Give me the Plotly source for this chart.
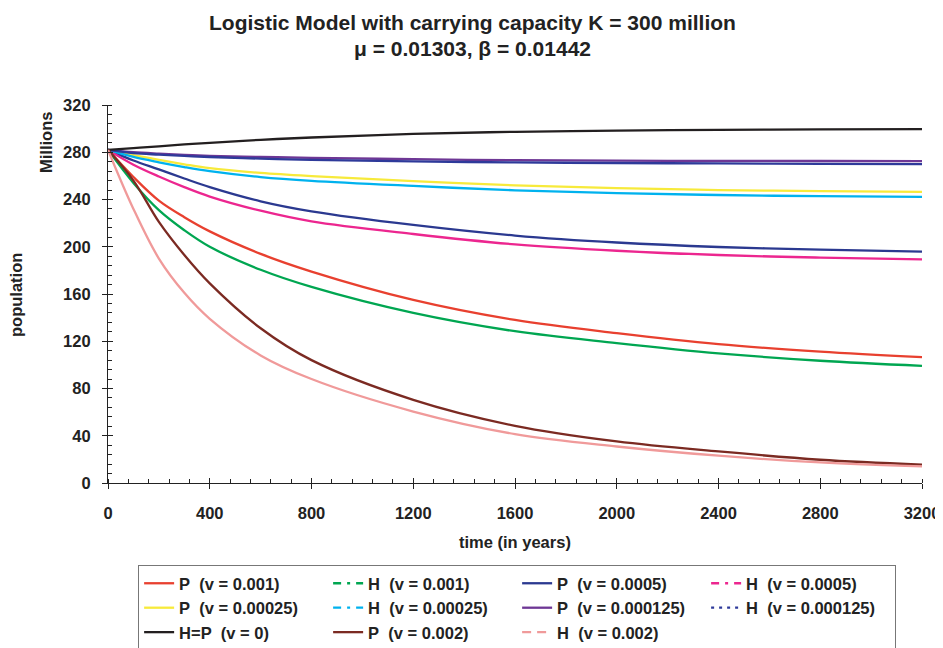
import plotly.graph_objects as go

years = [0, 100, 200, 300, 400, 600, 800, 1200, 1600, 2000, 2400, 2800, 3200]

p_0001 = [282, 259, 239, 225, 213, 194, 179, 155, 138, 126.8, 117.5, 111.2, 106.5]
h_0001 = [282, 254, 231, 214, 200, 180.5, 166, 144, 128.5, 118.5, 109.8, 103.5, 99.2]
p_00005 = [282, 273, 265.5, 257.8, 250.5, 238.5, 230, 218.5, 209.5, 203.6, 199.8, 197.6, 195.8]
h_00005 = [282, 269.5, 259.5, 250.5, 242.5, 230.5, 221.5, 210.8, 202, 196.6, 193, 190.8, 189.3]
p_000025 = [282, 277.5, 273.5, 269.8, 266.5, 262.5, 259.8, 255.6, 252, 249.6, 248, 247.1, 246.5]
h_000025 = [282, 276, 271.5, 267.5, 264, 259, 255.8, 251.5, 247.8, 245.4, 243.8, 242.8, 242.2]
p_0000125 = [282, 280, 278.8, 277.8, 277, 276, 275.3, 274.1, 273.3, 272.9, 272.7, 272.6, 272.5]
h_0000125 = [282, 279.3, 278, 276.9, 276, 274.6, 273.6, 272.3, 271.4, 270.9, 270.5, 270.1, 269.9]
hp_0 = [282, 283.5, 285, 286.6, 288, 290.5, 292.5, 295.5, 297.3, 298.3, 298.9, 299.3, 299.6]
p_0002 = [282, 256, 221, 193, 169, 131, 104, 70.4, 48.4, 35.2, 26.7, 19.7, 15.5]
h_0002 = [282, 232, 190, 161, 139, 108, 88, 60.5, 41.4, 30.9, 23.1, 17.4, 14]

NB = "\u00a0"
series = [
    ("P" + NB * 2 + "(v = 0.001)", p_0001, "#E8402F", "solid"),
    ("H" + NB * 2 + "(v = 0.001)", h_0001, "#00A651", "8px,6px,3px,6px"),
    ("P" + NB * 2 + "(v = 0.0005)", p_00005, "#2B3990", "solid"),
    ("H" + NB * 2 + "(v = 0.0005)", h_00005, "#EC268F", "8px,6px,3px,6px"),
    ("P" + NB * 2 + "(v = 0.00025)", p_000025, "#F7EA3B", "solid"),
    ("H" + NB * 2 + "(v = 0.00025)", h_000025, "#00B2EE", "8px,6px,3px,6px"),
    ("P" + NB * 2 + "(v = 0.000125)", p_0000125, "#6E3795", "solid"),
    ("H" + NB * 2 + "(v = 0.000125)", h_0000125, "#2E3A9A", "3px,5px"),
    ("H=P" + NB * 2 + "(v = 0)", hp_0, "#231F20", "solid"),
    ("P" + NB * 2 + "(v = 0.002)", p_0002, "#7B2A22", "solid"),
    ("H" + NB * 2 + "(v = 0.002)", h_0002, "#F09A9A", "9px,6px"),
]

FONT = "Liberation Sans, Arial, sans-serif"
FS = 16.5

# The page body has an 8px margin, so the figure is 8px smaller and every
# position below is given in figure pixels relative to the plot area.
L, T, R, B = 100, 97, 914, 475   # plot area edges in figure pixels
W, H = 935, 640

fig = go.Figure()
# drawn curves (solid in the plot area)
for name, vals, color, dash in series:
    fig.add_trace(go.Scatter(x=years, y=vals, mode="lines", name=name,
                             line=dict(color=color, width=2.3, shape="spline"),
                             showlegend=False, hoverinfo="skip"))
# legend entries (with the legend's line styles); placed on the overlay axes
for name, vals, color, dash in series:
    fig.add_trace(go.Scatter(x=[None], y=[None], mode="lines", name=name,
                             xaxis="x2", yaxis="y2",
                             line=dict(color=color, width=2.3, dash=dash),
                             showlegend=True))

fig.update_layout(
    width=W, height=H,
    margin=dict(l=L, r=W - R, t=T, b=H - B, autoexpand=False),
    paper_bgcolor="white", plot_bgcolor="white",
    font=dict(family=FONT, color="#222", size=FS),
    showlegend=True,
    legend=dict(orientation="h", x=0.037, xanchor="left", y=-0.217, yanchor="top",
                entrywidth=144, entrywidthmode="pixels",
                bordercolor="#777", borderwidth=1, bgcolor="white",
                font=dict(family=FONT, size=FS, color="#222", weight="bold"),
                traceorder="normal", itemwidth=30),
)

fig.update_layout(
    xaxis=dict(range=[0, 3200], dtick=400, tick0=0, showgrid=False, zeroline=False,
               showline=True, linecolor="#222", linewidth=1.2, automargin=False,
               ticks="outside", ticklen=5, tickcolor="#222", ticklabelstandoff=10,
               minor=dict(ticks="inside", ticklen=4, dtick=80, tickcolor="#222", showgrid=False),
               tickfont=dict(family=FONT, size=FS, color="#222", weight="bold")),
    yaxis=dict(range=[0, 320], dtick=40, tick0=0, showgrid=False, zeroline=False,
               showline=True, linecolor="#222", linewidth=1.2, automargin=False,
               ticks="outside", ticklen=5, tickcolor="#222", ticklabelstandoff=8,
               minor=dict(ticks="inside", ticklen=4, dtick=8, tickcolor="#222", showgrid=False),
               tickfont=dict(family=FONT, size=FS, color="#222", weight="bold")),
    # overlay axes: inner half of the major ticks, so they cross the axis lines
    xaxis2=dict(range=[0, 3200], dtick=400, tick0=0, overlaying="x", anchor="y2", side="bottom",
                showgrid=False, zeroline=False, showline=False, automargin=False,
                ticks="inside", ticklen=5, tickcolor="#222", showticklabels=False),
    yaxis2=dict(range=[0, 320], dtick=40, tick0=0, overlaying="y", anchor="x2", side="left",
                showgrid=False, zeroline=False, showline=False, automargin=False,
                ticks="inside", ticklen=5, tickcolor="#222", showticklabels=False),
)

PW, PH = R - L, B - T


def px(x):
    return (x - 8 - L) / PW


def py(y):
    return (B - (y - 8)) / PH


annots = [
    dict(text="Logistic Model with carrying capacity K = 300 million", x=472, y=23, size=21),
    dict(text="\u03bc = 0.01303, \u03b2 = 0.01442", x=472, y=48, size=21),
    dict(text="time (in years)", x=515, y=542, size=FS),
]
for a in annots:
    fig.add_annotation(text=a["text"], xref="paper", yref="paper",
                       x=px(a["x"]), y=py(a["y"]),
                       xanchor="center", yanchor="middle", showarrow=False,
                       font=dict(family=FONT, size=a["size"], color="#222", weight="bold"))
for text, ax, ay in [("population", 16, 295), ("Millions", 46, 142)]:
    fig.add_annotation(text=text, xref="paper", yref="paper",
                       x=px(ax), y=py(ay),
                       xanchor="center", yanchor="middle", showarrow=False, textangle=-90,
                       font=dict(family=FONT, size=FS, color="#222", weight="bold"))

fig.write_html("out.html")
